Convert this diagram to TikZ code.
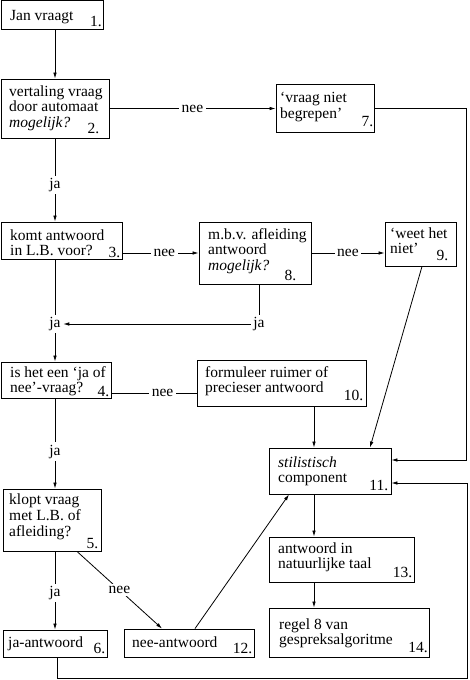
\documentclass[tikz,border=0pt]{standalone}
\usepackage{fontspec}
\setmainfont{Liberation Serif}
\usetikzlibrary{arrows.meta,fit}
\newcommand\dfont{\fontsize{15.5}{15.5}\selectfont}
\newcommand\mkbox[5]{\node[box, fit={(#2,#3) (#4,#5)}] (#1) {};}
\begin{document}
\begin{tikzpicture}[x=1pt,y=-1pt,
  box/.style={draw, line width=0.9pt, inner sep=0pt},
  txt/.style={anchor=north west, inner sep=0pt, align=left, font=\dfont},
  num/.style={anchor=base east, inner sep=0pt, font=\dfont},
  lbl/.style={font=\dfont, fill=white, inner sep=2.5pt},
  conn/.style={line width=0.8pt},
  arr/.style={conn, -{Latex[length=6pt,width=3.6pt]}}
]
\useasboundingbox (0,0) rectangle (470,680);
% boxes
\mkbox{b1}{1}{0.5}{103}{29}
\mkbox{b2}{1}{79}{109}{138}
\mkbox{b7}{276}{84}{374}{132}
\mkbox{b3}{1}{222}{122}{259}
\mkbox{b8}{199}{222}{311}{284}
\mkbox{b9}{385}{222}{456}{266}
\mkbox{b4}{1}{362}{111}{398}
\mkbox{b10}{197}{360}{366}{406}
\mkbox{b11}{269}{448}{391}{494}
\mkbox{b5}{3}{489}{101}{551}
\mkbox{b13}{269}{537}{414}{582}
\mkbox{b14}{269}{608}{429}{657}
\mkbox{b6}{3}{630}{107}{657}
\mkbox{b12}{124}{629}{254}{657}
% texts
\node[txt] (t1) at (10,9.8) {\strut Jan vraagt};
\node[txt] (t2) at (9,85.3) {\strut vertaling vraag\\door automaat\\\textit{mogelijk?}};
\node[txt] (t7) at (280,91.8) {\strut ‘vraag niet\\begrepen’};
\node[txt] (t3) at (10,229.2) {\strut komt antwoord\\in L.B. voor?};
\node[txt] (t8) at (208,228.2) {\strut m.b.v. afleiding\\antwoord\\\textit{mogelijk?}};
\node[txt] (t9) at (390,227.2) {\strut ‘weet het\\niet’};
\node[txt] (t4) at (10,366) {\strut is het een ‘ja of\\nee’-vraag?};
\node[txt] (t10) at (205,366.2) {\strut formuleer ruimer of\\precieser antwoord};
\node[txt] (t11) at (278,456) {\strut \textit{stilistisch}\\component};
\node[txt] (t5) at (9,493.2) {\strut klopt vraag\\met L.B. of\\afleiding?};
\node[txt] (t13) at (278,542.2) {\strut antwoord in\\natuurlijke taal};
\node[txt] (t14) at (279,618.2) {\strut regel 8 van\\gespreksalgoritme};
\node[txt] (t6) at (8,636.2) {\strut ja-antwoord};
\node[txt] (t12) at (132,636.2) {\strut nee-antwoord};
% numbers
\node[num] (n1) at ([xshift=-1.5pt,yshift=3pt]b1.south east) {1.};
\node[num] (n2) at ([xshift=-10pt,yshift=5pt]b2.south east) {2.};
\node[num] (n3) at ([xshift=-2pt,yshift=2pt]b3.south east) {3.};
\node[num] (n4) at ([xshift=-2pt,yshift=1.5pt]b4.south east) {4.};
\node[num] (n5) at ([xshift=-3pt,yshift=3pt]b5.south east) {5.};
\node[num] (n6) at ([xshift=-2pt,yshift=4pt]b6.south east) {6.};
\node[num] (n7) at ([xshift=-1pt,yshift=6pt]b7.south east) {7.};
\node[num] (n8) at ([xshift=-15pt,yshift=4pt]b8.south east) {8.};
\node[num] (n9) at ([xshift=-8pt,yshift=6pt]b9.south east) {9.};
\node[num] (n10) at ([xshift=-3pt,yshift=6pt]b10.south east) {10.};
\node[num] (n11) at ([xshift=-3pt,yshift=4pt]b11.south east) {11.};
\node[num] (n12) at ([xshift=-2pt,yshift=4pt]b12.south east) {12.};
\node[num] (n13) at ([xshift=-2pt,yshift=5pt]b13.south east) {13.};
\node[num] (n14) at ([xshift=-1.5pt,yshift=5pt]b14.south east) {14.};
% helper coordinates
\coordinate (v) at (314,0);
\coordinate (y4) at (0,393);
\coordinate (r1) at (466,460);
\coordinate (L1) at (57,678);
\coordinate (L2) at (467,483);
% join labels
\node[lbl] (ja3) at (55,324) {ja};
\node[lbl] (ja8) at (259,324) {ja};
% connectors
\draw[arr] (b1.south -| b2.north) -- (b2.north);
\draw[arr] (b2.east) -- node[lbl] (l27) {nee} (b2.east -| b7.west);
\draw[arr] (b2.south) -- node[lbl,pos=0.56] (l23) {ja} (b2.south |- b3.north);
\draw[arr] (b7.east) -| (r1) -- (r1 -| b11.east);
\draw[arr] (b3.east |- b8.west) -- node[lbl,pos=0.55] (l38) {nee} (b8.west);
\draw[arr] (b8.east) -- node[lbl] (l89) {nee} (b8.east -| b9.west);
\draw[conn] (ja8 |- b8.south) -- (ja8);
\draw[arr] (ja8) -- (ja3);
\draw[conn] (ja3 |- b3.south) -- (ja3);
\draw[arr] (ja3) -- (ja3 |- b4.north);
\draw[conn] (b4.east |- y4) -- node[lbl,pos=0.6] (l410) {nee} (b10.west |- y4);
\draw[arr] (ja3 |- b4.south) -- node[lbl,pos=0.59] (l45) {ja} (ja3 |- b5.north);
\draw[arr] (b10.south -| v) -- (b11.north -| v);
\draw[arr] ([xshift=1.5pt]b9.south) -- ([xshift=40pt]b11.north);
\draw[arr] (b11.south -| v) -- (b13.north -| v);
\draw[arr] (b13.south -| v) -- (b14.north -| v);
\draw[arr] (ja3 |- b5.south) -- node[lbl,pos=0.53] (l56) {ja} (ja3 |- b6.north);
\draw[arr] ([xshift=25pt]b5.south) -- node[lbl] (l512) {nee} ([xshift=-27pt]b12.north);
\draw[arr] ([xshift=6pt]b12.north) -- ([xshift=-41pt]b11.south);
\draw[arr] (L1 |- b6.south) -- (L1) -| (L2) -- (L2 -| b11.east);
\end{tikzpicture}
\end{document}
